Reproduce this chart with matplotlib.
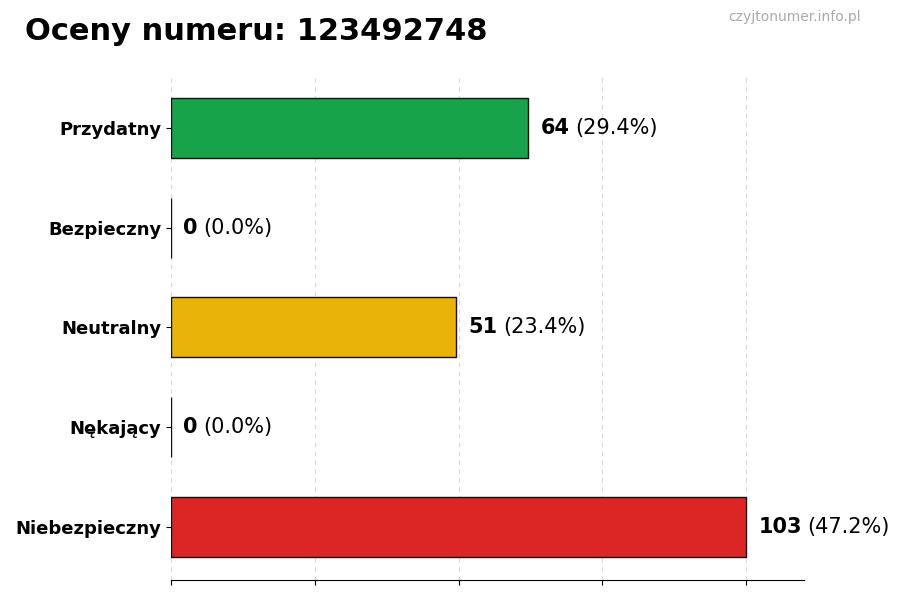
import matplotlib.pyplot as plt
import numpy as np

# dane wykresu
categories = ['Przydatny', 'Bezpieczny', 'Neutralny', 'Nękający', 'Niebezpieczny']
counts = [64, 0, 51, 0, 103]
colors = ['#16a34a', '#9ca3af', '#eab308', '#f97316', '#dc2626']
number = '123492748'

total = sum(counts)
percents = [c / total * 100 for c in counts]

fig = plt.figure(figsize=(9, 6), dpi=100)
ax = fig.add_axes([0.19, 0.0333, 0.703, 0.842])

y = np.arange(len(categories))
ax.barh(y, counts, height=0.6, color=colors, edgecolor='#111111', linewidth=1)
ax.invert_yaxis()

max_val = max(counts)
ax.set_xlim(0, max_val * 1.1)
ax.set_xticks(np.linspace(0, max_val, 5))
ax.set_xticklabels([])
ax.set_yticks(y)
ax.set_yticklabels(categories, fontsize=13, fontweight='bold')
ax.grid(axis='x', linestyle=(0, (4, 4)), color='#d9d9d9', linewidth=0.8)
ax.set_axisbelow(True)
for side in ['top', 'right', 'left']:
    ax.spines[side].set_visible(False)

fig.canvas.draw()
renderer = fig.canvas.get_renderer()
for i, (c, p) in enumerate(zip(counts, percents)):
    t = ax.annotate(str(c), xy=(c, i), xytext=(9, 0), textcoords='offset points',
                    va='center', ha='left', fontsize=15, fontweight='bold')
    bb = t.get_window_extent(renderer)
    w_pts = bb.width * 72 / fig.dpi
    ax.annotate(f'({p:.1f}%)', xy=(c, i), xytext=(9 + w_pts + 4, 0),
                textcoords='offset points', va='center', ha='left', fontsize=15)

fig.text(0.028, 0.948, f'Oceny numeru: {number}', fontsize=22, fontweight='bold',
         ha='left', va='center')
fig.text(0.956, 0.971, 'czyjtonumer.info.pl', fontsize=10, color='#aaaaaa',
         ha='right', va='center')

fig.savefig('out.png', dpi=100)
